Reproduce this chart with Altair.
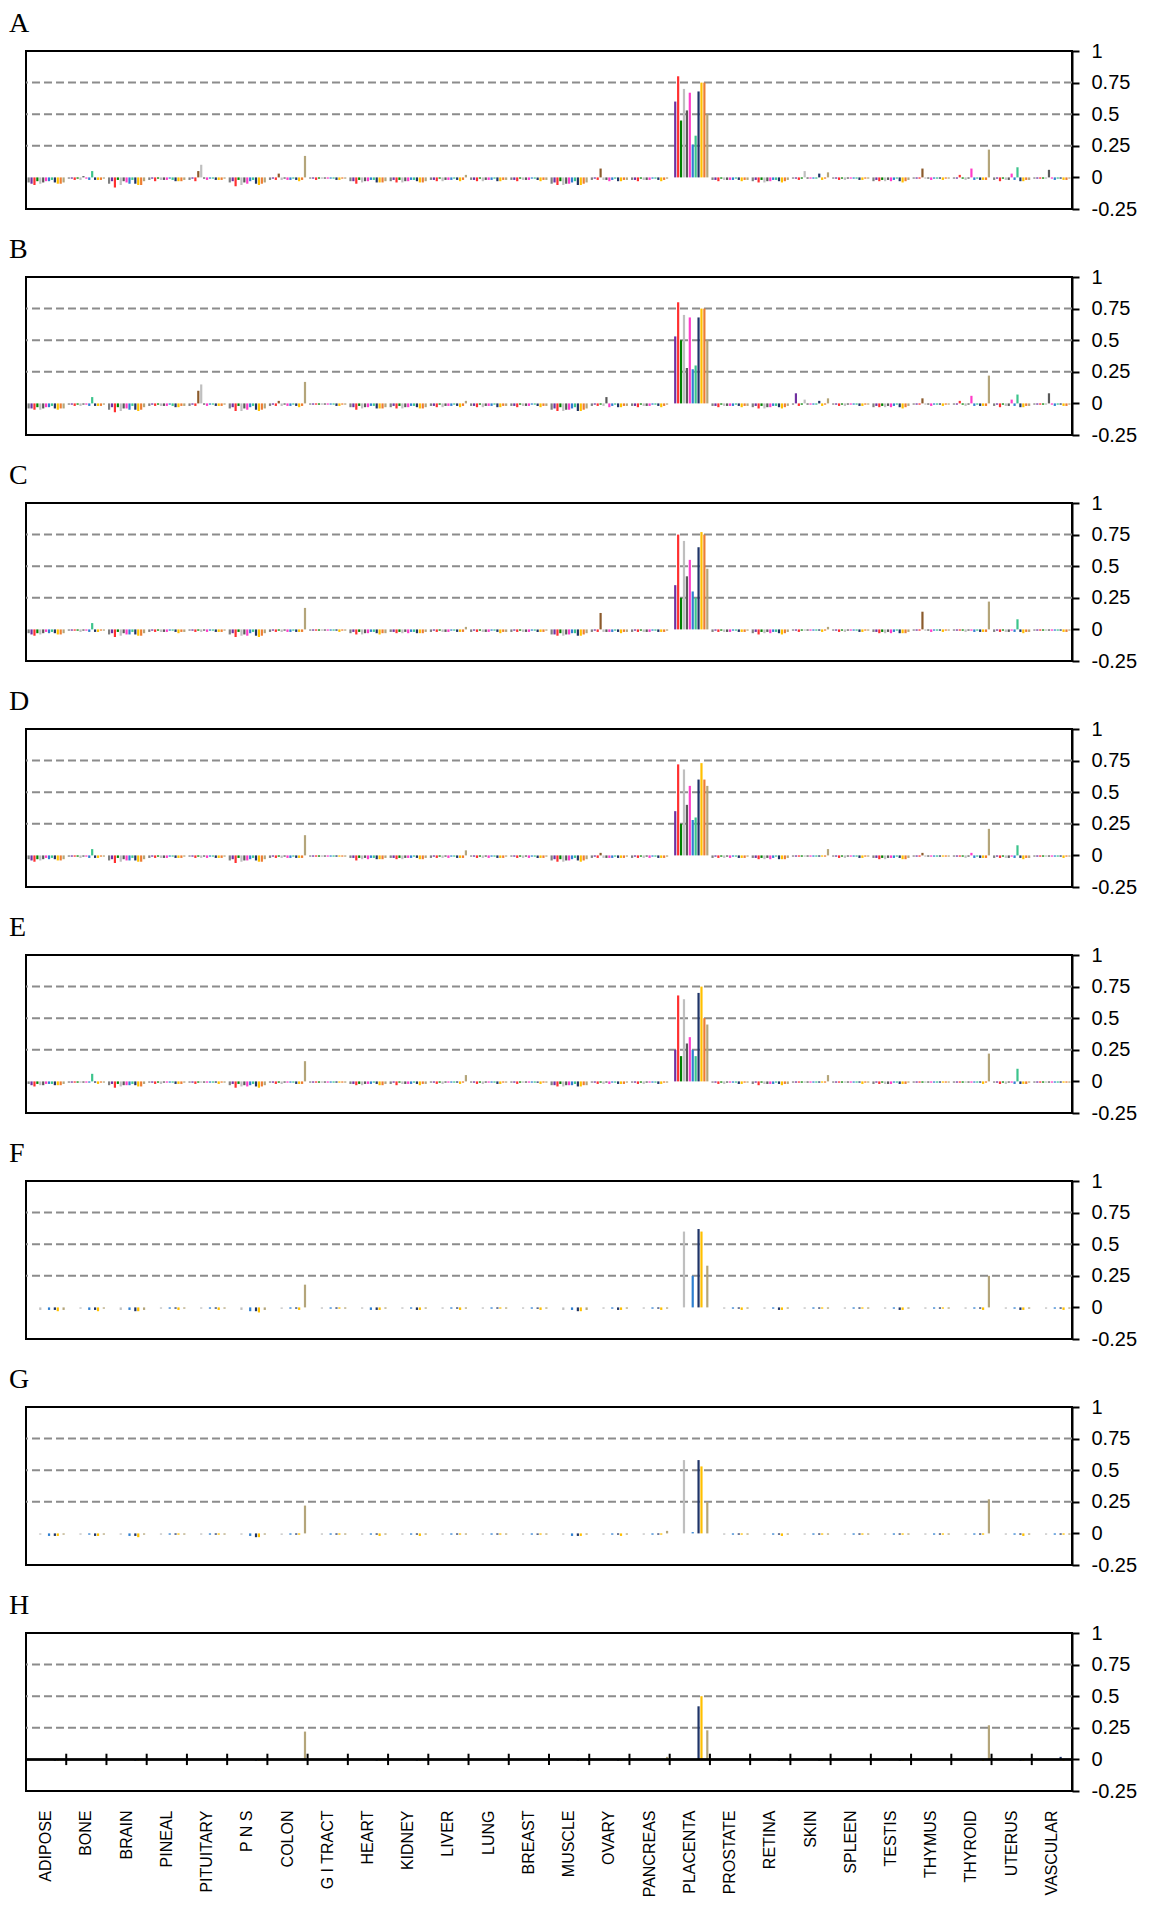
import altair as alt
import pandas as pd

tissues = ["ADIPOSE", "BONE", "BRAIN", "PINEAL", "PITUITARY", "P N S", "COLON",
           "G I TRACT", "HEART", "KIDNEY", "LIVER", "LUNG", "BREAST", "MUSCLE",
           "OVARY", "PANCREAS", "PLACENTA", "PROSTATE", "RETINA", "SKIN", "SPLEEN",
           "TESTIS", "THYMUS", "THYROID", "UTERUS", "VASCULAR"]

# thirteen probe positions drawn side by side inside every tissue group
slots = ["p01", "p02", "p03", "p04", "p05", "p06", "p07",
         "p08", "p09", "p10", "p11", "p12", "p13"]
slot_colors = ["#7F7F7F", "#7030A0", "#FF3030", "#008000", "#BFBFBF", "#595959",
               "#FF3CC8", "#2E7FD0", "#3CC48C", "#1F3468", "#FFC000", "#ED7D31",
               "#B4A57A"]
# the fourth position holds a brown probe in some tissues
alt_probe = "p04b"
alt_color = "#8B5A2B"
# panels F-H only carry five of the probes
reduced_slots = ["p05", "p08", "p10", "p11", "p13"]

grid_levels = [0.25, 0.5, 0.75]
y_ticks = [-0.25, 0, 0.25, 0.5, 0.75, 1]

scores_A = [
    [-.04, -.05, -.06, -.03, -.05, -.04, -.03, -.03, -.02, -.04, -.05, -.05, -.04],
    [-.01, -.01, -.02, -.01, -.02, .01, -.01, -.02, .05, -.02, -.02, -.02, -.01],
    [-.05, -.03, -.08, -.02, -.06, -.03, -.04, -.05, -.02, -.05, -.06, -.06, -.03],
    [-.02, -.01, -.03, -.01, -.02, -.02, -.02, -.01, -.02, -.03, -.03, -.03, -.02],
    [-.02, -.01, -.03, .05, .10, -.01, -.02, -.01, -.01, -.02, -.02, -.02, -.01],
    [-.04, -.03, -.07, -.02, -.06, -.04, -.05, -.03, -.02, -.05, -.06, -.05, -.04],
    [-.02, -.01, -.02, .03, -.02, -.01, -.02, -.02, -.01, -.02, -.03, -.02, .17],
    [-.01, -.01, -.02, -.01, -.01, -.01, -.01, -.01, -.01, -.02, -.02, -.01, -.01],
    [-.03, -.03, -.05, -.02, -.04, -.03, -.03, -.02, -.02, -.04, -.04, -.04, -.03],
    [-.03, -.02, -.04, -.02, -.04, -.03, -.03, -.02, -.02, -.03, -.04, -.04, -.03],
    [-.02, -.02, -.03, -.01, -.03, -.02, -.02, -.02, -.01, -.02, -.03, -.02, .02],
    [-.02, -.02, -.03, -.01, -.03, -.02, -.02, -.02, -.01, -.03, -.03, -.02, -.02],
    [-.02, -.02, -.03, -.01, -.02, -.02, -.02, -.01, -.01, -.02, -.03, -.02, -.02],
    [-.05, -.04, -.06, -.03, -.06, -.05, -.05, -.04, -.03, -.06, -.06, -.05, -.04],
    [-.02, -.01, -.02, .07, -.02, -.02, -.03, -.02, -.01, -.03, -.03, -.02, -.02],
    [-.02, -.02, -.03, -.01, -.02, -.02, -.02, -.01, -.01, -.02, -.03, -.02, -.01],
    [.00, .60, .80, .45, .70, .53, .67, .26, .33, .68, .75, .75, .50],
    [-.02, -.02, -.03, -.01, -.02, -.02, -.02, -.02, -.01, -.02, -.03, -.02, -.02],
    [-.03, -.02, -.04, -.02, -.04, -.03, -.03, -.02, -.02, -.03, -.04, -.03, -.02],
    [-.01, -.01, -.02, -.01, .05, -.01, -.01, -.01, -.01, .03, -.02, -.01, .04],
    [-.01, -.01, -.02, -.01, -.02, -.01, -.01, -.01, -.01, -.02, -.02, -.01, -.01],
    [-.03, -.02, -.03, -.02, -.03, -.02, -.03, -.02, -.01, -.03, -.04, -.03, -.02],
    [-.01, -.01, -.01, .07, -.01, -.01, -.02, -.01, -.01, -.01, -.02, -.01, -.01],
    [-.01, -.01, .02, -.01, -.02, -.01, .07, -.02, -.01, -.02, -.02, -.02, .22],
    [-.02, -.01, -.03, -.01, -.02, -.02, .03, -.02, .08, -.03, -.03, -.02, -.02],
    [-.01, -.01, -.01, -.01, -.01, .06, -.01, -.02, -.01, -.01, -.02, -.02, -.01],
]
brown_A = ["PITUITARY", "COLON", "OVARY", "THYMUS"]

scores_B = [
    [-.04, -.04, -.05, -.03, -.05, -.04, -.03, -.03, -.02, -.04, -.05, -.04, -.04],
    [-.01, -.01, -.02, -.01, -.02, -.01, -.01, -.02, .05, -.02, -.02, -.02, -.01],
    [-.05, -.03, -.07, -.03, -.06, -.04, -.04, -.05, -.02, -.05, -.06, -.05, -.03],
    [-.02, -.01, -.02, -.01, -.02, -.02, -.02, -.01, -.02, -.03, -.03, -.02, -.02],
    [-.02, -.01, -.02, .10, .15, -.01, -.02, -.01, -.01, -.02, -.02, -.02, -.01],
    [-.04, -.03, -.06, -.02, -.06, -.04, -.05, -.03, -.02, -.05, -.06, -.05, -.04],
    [-.02, -.01, -.02, .02, -.02, -.01, -.02, -.02, -.01, -.02, -.03, -.02, .17],
    [-.01, -.01, -.01, -.01, -.01, -.01, -.01, -.01, -.01, -.02, -.02, -.01, -.01],
    [-.03, -.03, -.05, -.02, -.04, -.03, -.03, -.02, -.02, -.04, -.04, -.04, -.03],
    [-.03, -.02, -.04, -.02, -.04, -.03, -.03, -.02, -.02, -.03, -.04, -.04, -.03],
    [-.02, -.02, -.03, -.01, -.03, -.02, -.02, -.02, -.01, -.02, -.03, -.02, .02],
    [-.02, -.02, -.03, -.01, -.03, -.02, -.02, -.02, -.01, -.03, -.03, -.02, -.02],
    [-.02, -.02, -.03, -.01, -.02, -.02, -.02, -.01, -.01, -.02, -.03, -.02, -.02],
    [-.05, -.04, -.06, -.03, -.06, -.05, -.05, -.04, -.03, -.06, -.06, -.05, -.04],
    [-.02, -.01, -.02, -.01, -.02, .05, -.03, -.02, -.01, -.03, -.03, -.02, -.02],
    [-.02, -.02, -.03, -.01, -.02, -.02, -.02, -.01, -.01, -.02, -.03, -.02, -.01],
    [.00, .53, .80, .50, .70, .28, .68, .27, .30, .68, .75, .75, .50],
    [-.02, -.02, -.03, -.01, -.02, -.02, -.02, -.02, -.01, -.02, -.03, -.02, -.02],
    [-.03, -.02, -.04, -.02, -.04, -.03, -.03, -.02, -.02, -.03, -.04, -.03, -.02],
    [-.01, .08, -.02, -.01, .03, -.01, -.01, -.01, -.01, .02, -.02, -.01, .04],
    [-.01, -.01, -.02, -.01, -.02, -.01, -.01, -.01, -.01, -.02, -.02, -.01, -.01],
    [-.03, -.02, -.03, -.02, -.03, -.02, -.03, -.02, -.01, -.03, -.04, -.03, -.02],
    [-.01, -.01, -.01, .04, -.01, -.01, -.02, -.01, -.01, -.01, -.02, -.01, -.01],
    [-.01, -.01, .02, -.01, -.02, -.01, .06, -.02, -.01, -.02, -.02, -.02, .22],
    [-.02, -.01, -.03, -.01, -.02, -.02, .03, -.02, .07, -.03, -.03, -.02, -.02],
    [-.01, -.01, -.01, -.01, -.01, .08, -.01, -.02, -.01, -.01, -.02, -.02, -.01],
]
brown_B = ["PITUITARY", "COLON", "THYMUS"]

scores_C = [
    [-.03, -.04, -.05, -.03, -.04, -.03, -.02, -.03, -.02, -.03, -.04, -.04, -.03],
    [-.01, -.01, -.01, -.01, -.02, -.01, -.01, -.02, .05, -.02, -.02, -.01, -.01],
    [-.04, -.03, -.06, -.02, -.05, -.03, -.04, -.04, -.02, -.04, -.05, -.05, -.03],
    [-.02, -.01, -.02, -.01, -.02, -.02, -.02, -.01, -.01, -.02, -.03, -.02, -.02],
    [-.01, -.01, -.02, -.01, -.02, -.01, -.02, -.01, -.01, -.02, -.02, -.02, -.01],
    [-.04, -.03, -.06, -.02, -.05, -.04, -.05, -.03, -.02, -.05, -.06, -.05, -.03],
    [-.02, -.01, -.02, -.01, -.02, -.01, -.02, -.02, -.01, -.02, -.02, -.02, .17],
    [-.01, -.01, -.01, -.01, -.01, -.01, -.01, -.01, -.01, -.01, -.02, -.01, -.01],
    [-.03, -.02, -.04, -.02, -.04, -.03, -.03, -.02, -.02, -.03, -.04, -.03, -.03],
    [-.02, -.02, -.03, -.02, -.03, -.02, -.03, -.02, -.02, -.03, -.03, -.03, -.02],
    [-.02, -.01, -.02, -.01, -.02, -.02, -.02, -.01, -.01, -.02, -.02, -.02, .02],
    [-.02, -.01, -.02, -.01, -.02, -.02, -.02, -.01, -.01, -.02, -.03, -.02, -.02],
    [-.02, -.01, -.02, -.01, -.02, -.02, -.02, -.01, -.01, -.02, -.02, -.02, -.01],
    [-.04, -.04, -.05, -.03, -.05, -.04, -.04, -.03, -.03, -.05, -.05, -.04, -.03],
    [-.02, -.01, -.02, .13, -.02, -.02, -.02, -.02, -.01, -.02, -.03, -.02, -.02],
    [-.02, -.01, -.02, -.01, -.02, -.02, -.02, -.01, -.01, -.02, -.02, -.02, -.01],
    [.00, .35, .75, .25, .70, .42, .55, .30, .25, .65, .77, .75, .48],
    [-.02, -.01, -.02, -.01, -.02, -.02, -.02, -.01, -.01, -.02, -.02, -.02, -.01],
    [-.03, -.02, -.04, -.02, -.03, -.02, -.03, -.02, -.02, -.03, -.04, -.03, -.02],
    [-.01, -.01, -.02, -.01, -.01, -.01, -.01, -.01, -.01, -.01, -.02, -.01, .02],
    [-.01, -.01, -.02, -.01, -.02, -.01, -.01, -.01, -.01, -.02, -.02, -.01, -.01],
    [-.02, -.02, -.03, -.02, -.03, -.02, -.03, -.02, -.01, -.03, -.03, -.03, -.02],
    [-.01, -.01, -.01, .14, -.01, -.01, -.02, -.01, -.01, -.01, -.02, -.01, -.01],
    [-.01, -.01, -.01, -.01, -.02, -.01, -.01, -.02, -.01, -.02, -.02, -.02, .22],
    [-.02, -.01, -.02, -.01, -.02, -.02, -.01, -.02, .08, -.02, -.03, -.02, -.02],
    [-.01, -.01, -.01, -.01, -.01, -.01, -.01, -.01, -.01, -.01, -.02, -.02, -.01],
]
brown_C = ["OVARY", "THYMUS"]

scores_D = [
    [-.03, -.04, -.05, -.03, -.04, -.03, -.02, -.03, -.02, -.03, -.04, -.04, -.03],
    [-.01, -.01, -.01, -.01, -.02, -.01, -.01, -.02, .05, -.02, -.02, -.01, -.01],
    [-.04, -.03, -.06, -.02, -.05, -.03, -.04, -.04, -.02, -.04, -.05, -.05, -.03],
    [-.02, -.01, -.02, -.01, -.02, -.02, -.02, -.01, -.01, -.02, -.02, -.02, -.01],
    [-.01, -.01, -.02, -.01, -.02, -.01, -.02, -.01, -.01, -.02, -.02, -.02, -.01],
    [-.04, -.03, -.06, -.02, -.05, -.04, -.04, -.03, -.02, -.04, -.05, -.05, -.03],
    [-.02, -.01, -.02, -.01, -.02, -.01, -.02, -.02, -.01, -.02, -.02, -.02, .16],
    [-.01, -.01, -.01, -.01, -.01, -.01, -.01, -.01, -.01, -.01, -.01, -.01, -.01],
    [-.02, -.02, -.04, -.02, -.03, -.02, -.03, -.02, -.02, -.03, -.03, -.03, -.02],
    [-.02, -.02, -.03, -.02, -.03, -.02, -.02, -.02, -.01, -.02, -.03, -.03, -.02],
    [-.02, -.01, -.02, -.01, -.02, -.01, -.02, -.01, -.01, -.02, -.02, -.02, .04],
    [-.01, -.01, -.02, -.01, -.02, -.01, -.02, -.01, -.01, -.02, -.02, -.02, -.01],
    [-.01, -.01, -.02, -.01, -.02, -.01, -.02, -.01, -.01, -.02, -.02, -.02, -.01],
    [-.04, -.03, -.05, -.03, -.05, -.04, -.04, -.03, -.02, -.04, -.05, -.04, -.03],
    [-.02, -.01, -.02, .02, -.02, -.02, -.02, -.02, -.01, -.02, -.02, -.02, -.01],
    [-.02, -.01, -.02, -.01, -.02, -.01, -.02, -.01, -.01, -.02, -.02, -.02, -.01],
    [.00, .35, .72, .25, .68, .40, .55, .28, .30, .60, .73, .60, .55],
    [-.02, -.01, -.02, -.01, -.02, -.01, -.02, -.01, -.01, -.02, -.02, -.02, -.01],
    [-.02, -.02, -.03, -.02, -.03, -.02, -.03, -.02, -.01, -.03, -.03, -.03, -.02],
    [-.01, -.01, -.01, -.01, -.01, -.01, -.01, -.01, -.01, -.01, -.01, -.01, .05],
    [-.01, -.01, -.02, -.01, -.02, -.01, -.01, -.01, -.01, -.02, -.02, -.01, -.01],
    [-.02, -.02, -.03, -.02, -.03, -.02, -.02, -.02, -.01, -.02, -.03, -.03, -.02],
    [-.01, -.01, -.01, .02, -.01, -.01, -.01, -.01, -.01, -.01, -.01, -.01, -.01],
    [-.01, -.01, -.01, -.01, -.02, -.01, .02, -.02, -.01, -.02, -.02, -.02, .21],
    [-.02, -.01, -.02, -.01, -.02, -.02, -.01, -.02, .08, -.02, -.03, -.02, -.02],
    [-.01, -.01, -.01, -.01, -.01, -.01, -.01, -.01, -.01, -.01, -.02, -.01, -.01],
]
brown_D = ["OVARY", "THYMUS"]

scores_E = [
    [-.02, -.03, -.04, -.02, -.03, -.03, -.02, -.02, -.02, -.03, -.03, -.03, -.02],
    [-.01, -.01, -.01, -.01, -.01, -.01, -.01, -.01, .06, -.01, -.02, -.01, -.01],
    [-.03, -.02, -.05, -.02, -.04, -.03, -.03, -.03, -.02, -.03, -.04, -.04, -.02],
    [-.01, -.01, -.02, -.01, -.02, -.01, -.01, -.01, -.01, -.02, -.02, -.02, -.01],
    [-.01, -.01, -.02, -.01, -.01, -.01, -.01, -.01, -.01, -.01, -.02, -.01, -.01],
    [-.03, -.02, -.05, -.02, -.04, -.03, -.04, -.03, -.02, -.04, -.05, -.04, -.03],
    [-.01, -.01, -.02, -.01, -.02, -.01, -.01, -.01, -.01, -.02, -.02, -.02, .16],
    [-.01, -.01, -.01, -.01, -.01, -.01, -.01, -.01, -.01, -.01, -.01, -.01, -.01],
    [-.02, -.02, -.03, -.02, -.03, -.02, -.02, -.02, -.01, -.02, -.03, -.03, -.02],
    [-.02, -.01, -.03, -.01, -.02, -.02, -.02, -.02, -.01, -.02, -.03, -.02, -.02],
    [-.01, -.01, -.02, -.01, -.02, -.01, -.01, -.01, -.01, -.01, -.02, -.01, .05],
    [-.01, -.01, -.02, -.01, -.02, -.01, -.01, -.01, -.01, -.02, -.02, -.01, -.01],
    [-.01, -.01, -.02, -.01, -.01, -.01, -.01, -.01, -.01, -.01, -.02, -.01, -.01],
    [-.03, -.03, -.04, -.02, -.04, -.03, -.03, -.03, -.02, -.04, -.04, -.03, -.03],
    [-.01, -.01, -.02, -.01, -.02, -.01, -.02, -.01, -.01, -.02, -.02, -.02, -.01],
    [-.01, -.01, -.02, -.01, -.02, -.01, -.01, -.01, -.01, -.02, -.02, -.01, -.01],
    [.00, .25, .68, .20, .65, .30, .35, .25, .20, .70, .75, .50, .45],
    [-.01, -.01, -.02, -.01, -.02, -.01, -.01, -.01, -.01, -.02, -.02, -.01, -.01],
    [-.02, -.01, -.03, -.01, -.02, -.02, -.02, -.02, -.01, -.02, -.03, -.02, -.02],
    [-.01, -.01, -.01, -.01, -.01, -.01, -.01, -.01, -.01, -.01, -.01, -.01, .05],
    [-.01, -.01, -.01, -.01, -.01, -.01, -.01, -.01, -.01, -.01, -.02, -.01, -.01],
    [-.02, -.01, -.02, -.01, -.02, -.02, -.02, -.01, -.01, -.02, -.02, -.02, -.01],
    [-.01, -.01, -.01, -.01, -.01, -.01, -.01, -.01, -.01, -.01, -.01, -.01, -.01],
    [-.01, -.01, -.01, -.01, -.01, -.01, -.01, -.01, -.01, -.01, -.02, -.01, .22],
    [-.01, -.01, -.02, -.01, -.02, -.01, -.01, -.02, .10, -.02, -.02, -.02, -.01],
    [-.01, -.01, -.01, -.01, -.01, -.01, -.01, -.01, -.01, -.01, -.01, -.01, -.01],
]
brown_E = []

scores_F = [
    [-.02, -.02, -.02, -.03, -.02], [-.01, -.02, -.02, -.03, -.01],
    [-.02, -.02, -.03, -.03, -.02], [-.01, -.01, -.01, -.02, -.01],
    [-.01, -.01, -.01, -.02, -.01], [-.02, -.03, -.03, -.04, -.02],
    [-.01, -.01, -.01, -.02, .18], [-.01, -.01, -.01, -.01, -.01],
    [-.01, -.02, -.02, -.02, -.01], [-.01, -.01, -.02, -.02, -.01],
    [-.01, -.01, -.01, -.02, -.01], [-.01, -.01, -.01, -.01, -.01],
    [-.01, -.01, -.01, -.02, -.01], [-.02, -.02, -.03, -.03, -.02],
    [-.01, -.01, -.02, -.02, -.01], [-.01, -.01, -.01, -.02, -.01],
    [.60, .25, .62, .60, .33], [-.01, -.01, -.01, -.02, -.01],
    [-.01, -.01, -.02, -.02, -.01], [-.01, -.01, -.01, -.01, -.01],
    [-.01, -.01, -.01, -.01, -.01], [-.01, -.01, -.02, -.02, -.01],
    [-.01, -.01, -.01, -.01, -.01], [-.01, -.01, -.01, -.02, .25],
    [-.01, -.01, -.02, -.02, -.01], [-.01, -.01, -.01, -.02, -.01],
]

scores_G = [
    [-.01, -.02, -.02, -.02, -.01], [-.01, -.01, -.02, -.02, -.01],
    [-.01, -.02, -.02, -.03, -.01], [-.01, -.01, -.01, -.01, -.01],
    [-.01, -.01, -.01, -.01, -.01], [-.01, -.02, -.03, -.03, -.01],
    [-.01, -.01, -.01, -.01, .22], [-.01, -.01, -.01, -.01, -.01],
    [-.01, -.01, -.01, -.02, -.01], [-.01, -.01, -.01, -.02, -.01],
    [-.01, -.01, -.01, -.01, -.01], [-.01, -.01, -.01, -.01, -.01],
    [-.01, -.01, -.01, -.01, -.01], [-.01, -.02, -.02, -.02, -.01],
    [-.01, -.01, -.01, -.02, -.01], [-.01, -.01, -.01, -.01, .02],
    [.58, .01, .58, .53, .25], [-.01, -.01, -.01, -.01, -.01],
    [-.01, -.01, -.01, -.02, -.01], [-.01, -.01, -.01, -.01, -.01],
    [-.01, -.01, -.01, -.01, -.01], [-.01, -.01, -.01, -.01, -.01],
    [-.01, -.01, -.01, -.01, -.01], [-.01, -.01, -.01, -.01, .27],
    [-.01, -.01, -.01, -.02, -.01], [-.01, -.01, -.01, -.01, -.01],
]

scores_H = [
    [-.005, -.005, -.01, -.01, -.005], [-.005, -.005, -.005, -.005, -.005],
    [-.005, -.005, -.01, -.01, -.005], [-.005, -.005, -.005, -.005, -.005],
    [-.005, -.005, -.005, -.005, -.005], [-.005, -.005, -.01, -.01, -.005],
    [-.005, -.005, -.005, -.005, .22], [-.005, -.005, -.005, -.005, -.005],
    [-.005, -.005, -.01, -.01, -.005], [-.005, -.005, -.01, -.01, -.005],
    [-.005, -.005, -.005, -.005, -.005], [-.005, -.005, -.005, -.005, -.005],
    [-.005, -.005, -.005, -.005, -.005], [-.005, -.005, -.01, -.01, -.005],
    [-.005, -.005, -.01, -.01, -.005], [-.005, -.005, -.005, -.005, .02],
    [.00, .00, .42, .50, .23], [-.005, -.005, -.005, -.005, -.005],
    [-.005, -.005, -.01, -.01, -.005], [-.005, -.005, -.01, -.01, -.005],
    [-.005, -.005, -.005, -.005, -.005], [-.005, -.005, -.01, -.01, -.005],
    [-.005, -.005, -.005, -.005, -.005], [-.005, -.005, -.005, -.01, .27],
    [-.005, -.005, -.01, -.01, -.005], [-.005, -.005, .02, -.01, -.005],
]

panel_letters = ["A", "B", "C", "D", "E", "F", "G", "H"]
panel_scores = [scores_A, scores_B, scores_C, scores_D, scores_E,
                scores_F, scores_G, scores_H]
panel_browns = [brown_A, brown_B, brown_C, brown_D, brown_E, [], [], []]
panel_slots = [slots] * 5 + [reduced_slots] * 3

PLOT_W = 1046
PLOT_H = 158
SERIF = "Liberation Serif"
SANS = "Liberation Sans"

grid_df = pd.DataFrame({"level": grid_levels})
tissue_df = pd.DataFrame({"tissue": tissues})

y_scale = alt.Scale(domain=[-0.25, 1], nice=False, zero=False)
y_axis = alt.Axis(orient="right", values=y_ticks, labelExpr="datum.value + ''",
                  labelFont=SANS, labelFontSize=20, labelColor="black",
                  labelPadding=12, labelOverlap=False, tickSize=7, tickWidth=2,
                  tickColor="black", domainColor="black", domainWidth=2,
                  grid=False, title=None)
x_scale = alt.Scale(domain=tissues, paddingInner=0, paddingOuter=0)
offset_scale = alt.Scale(domain=slots, paddingOuter=0.4, paddingInner=0)
color_scale = alt.Scale(domain=slots + [alt_probe], range=slot_colors + [alt_color])


def make_panel(letter, scores, names, browns, bottom):
    rows = []
    for tissue, vals in zip(tissues, scores):
        for name, v in zip(names, vals):
            probe = alt_probe if (name == "p04" and tissue in browns) else name
            rows.append({"tissue": tissue, "slot": name, "probe": probe, "score": v})
    df = pd.DataFrame(rows)

    if bottom:
        x_axis = alt.Axis(labelAngle=-90, labelFont=SANS, labelFontSize=16,
                          labelColor="black", labelPadding=19, ticks=False,
                          domain=False, title=None, grid=False)
    else:
        x_axis = None

    grid = alt.Chart(grid_df).mark_rule(
        color="#8C8C8C", strokeWidth=2, strokeDash=[8, 4]
    ).encode(y=alt.Y("level:Q", scale=y_scale, axis=y_axis))

    bars = alt.Chart(df).mark_bar(size=2.2).encode(
        x=alt.X("tissue:N", scale=x_scale, sort=tissues, axis=x_axis),
        xOffset=alt.XOffset("slot:N", scale=offset_scale, sort=slots),
        y=alt.Y("score:Q", scale=y_scale, axis=y_axis),
        y2=alt.datum(0),
        color=alt.Color("probe:N", scale=color_scale, legend=None),
    )
    layers = [grid, bars]

    if bottom:
        zero_line = alt.Chart(grid_df).mark_rule(color="black", strokeWidth=2).encode(
            y=alt.Y(datum=0, scale=y_scale, axis=y_axis))
        group_ticks = alt.Chart(tissue_df).mark_rule(color="black", strokeWidth=2).encode(
            x=alt.X("tissue:N", scale=x_scale, sort=tissues, axis=x_axis, bandPosition=1),
            y=alt.Y(datum=0.045, scale=y_scale, axis=y_axis),
            y2=alt.datum(-0.045),
        )
        layers += [zero_line, group_ticks]

    return alt.layer(*layers).properties(
        width=PLOT_W,
        height=PLOT_H,
        title=alt.TitleParams(letter, anchor="start", frame="group", dx=-17,
                              font=SERIF, fontSize=28, fontWeight="normal",
                              color="black", baseline="alphabetic", offset=-18.5),
    )


panels = [make_panel(letter, scores, names, browns, letter == "H")
          for letter, scores, names, browns in
          zip(panel_letters, panel_scores, panel_slots, panel_browns)]

chart = alt.vconcat(*panels, spacing=14).properties(
    background="white",
    padding={"left": 8, "top": 8, "right": 5, "bottom": 5},
).configure_view(stroke="black", strokeWidth=2)

chart.save("out.html", embed_options={"renderer": "svg", "actions": False})
